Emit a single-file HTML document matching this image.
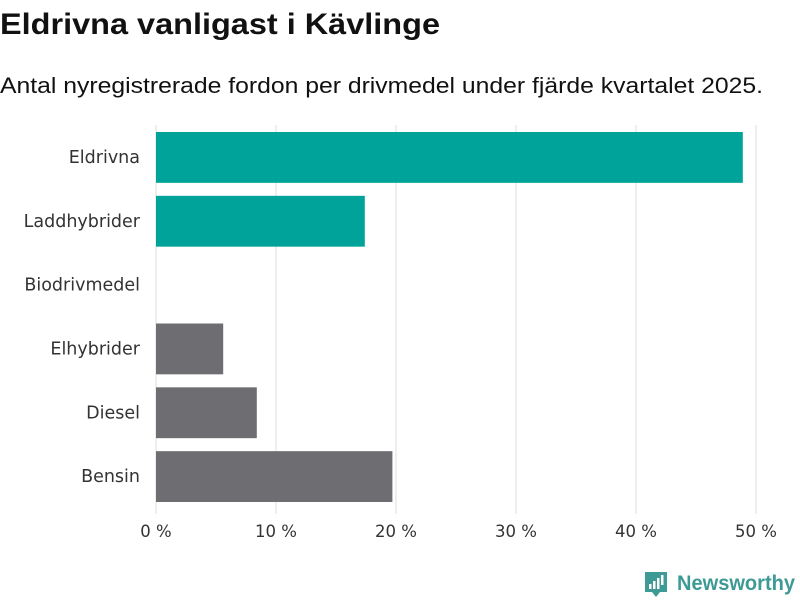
<!DOCTYPE html>
<html><head><meta charset="utf-8"><style>
body{margin:0;width:800px;height:600px;background:#fff;font-family:"Liberation Sans",sans-serif;overflow:hidden}
</style></head><body>
<svg width="800" height="600" xmlns="http://www.w3.org/2000/svg">
<text x="0" y="34" font-size="30" font-weight="bold" fill="#111" textLength="440" lengthAdjust="spacingAndGlyphs">Eldrivna vanligast i Kävlinge</text>
<text x="0" y="93" font-size="22" fill="#111" textLength="763" lengthAdjust="spacingAndGlyphs">Antal nyregistrerade fordon per drivmedel under fjärde kvartalet 2025.</text>
<g id="grid"></g><g id="bars"></g><g id="ylabels"></g><g id="xticks"></g>
<g>
<path d="M645 572 h22 v20 h-7 l-4 5 l-4 -5 h-7 z" fill="#3d9a94"/>
<rect x="649" y="584" width="2.5" height="5" fill="#fff"/><rect x="653" y="581" width="2.5" height="8" fill="#fff"/><rect x="657" y="578" width="2.5" height="11" fill="#fff"/><rect x="661" y="575" width="2.5" height="10" fill="#fff"/>
<text x="677" y="590" font-size="21" font-weight="bold" fill="#3d9a94" textLength="118" lengthAdjust="spacingAndGlyphs">Newsworthy</text>
</g>
</svg>
<script>
const categories=["Eldrivna","Laddhybrider","Biodrivmedel","Elhybrider","Diesel","Bensin"];
const values=[48.9,17.4,0,5.6,8.4,19.7];
const colors=["#00a399","#00a399","#00a399","#6e6d72","#6e6d72","#6e6d72"];
const ticks=[0,10,20,30,40,50];
const tickLabels=["0 %","10 %","20 %","30 %","40 %","50 %"];
const NS="http://www.w3.org/2000/svg";
const x0=156,x1=756,yTop=125,yBot=508;
const xs=v=>x0+(v/50)*(x1-x0);
const band=(yBot-yTop)/categories.length;
function mk(t,a,p){const e=document.createElementNS(NS,t);for(const k in a)e.setAttribute(k,a[k]);p.appendChild(e);return e;}
const g=document.getElementById('grid'),b=document.getElementById('bars'),yl=document.getElementById('ylabels'),xt=document.getElementById('xticks');
ticks.forEach((t,i)=>{
 const l=mk('line',{x1:xs(t),x2:xs(t),y1:yTop,y2:yBot+6,stroke:'#ddd','stroke-width':1},g);
 
 
 const tx=mk('text',{x:xs(t),y:537,'font-size':16.5,'font-family':'DejaVu Sans, sans-serif',fill:'#333','text-anchor':'middle'},xt);
 tx.textContent=tickLabels[i];
 
 
});
categories.forEach((c,i)=>{
 const y=yTop+i*band;
 const r=mk('rect',{x:x0,y:y+7,width:xs(values[i])-x0,height:band-13,fill:colors[i]},b);
 
 
 const t=mk('text',{x:140,y:y+band/2+6,'font-size':17.5,'font-family':'DejaVu Sans, sans-serif',fill:'#333','text-anchor':'end'},yl);
 t.textContent=c;
 
 
});
</script>
</body></html>
